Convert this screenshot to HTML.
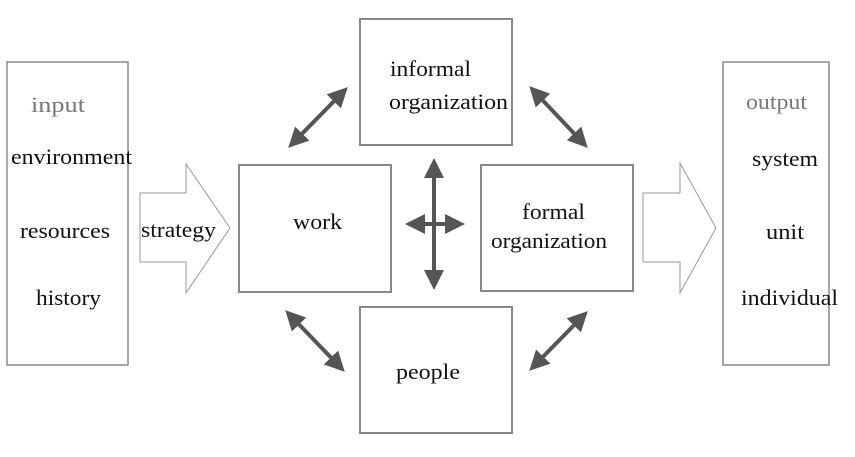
<!DOCTYPE html>
<html><head><style>
html,body{margin:0;padding:0;background:#fff;}
svg text{font-family:"Liberation Serif",serif;font-size:22px;fill:#111;}
</style></head><body>
<svg width="855" height="452" viewBox="0 0 855 452" xmlns="http://www.w3.org/2000/svg">
<defs>
<marker id="a" viewBox="0 0 10 10" refX="8" refY="5" markerWidth="5" markerHeight="5" orient="auto-start-reverse">
<path d="M0,0 L10,5 L0,10 z" fill="#555"/></marker>
</defs>
<g fill="#fff" stroke="#888" stroke-width="1.5">
<rect x="7" y="62" width="121" height="303"/>
<rect x="723" y="62" width="106" height="303"/>
</g>
<g fill="#fff" stroke="#888" stroke-width="2">
<rect x="239" y="165" width="152" height="127"/>
<rect x="360" y="19" width="152" height="126"/>
<rect x="481" y="165" width="152" height="126"/>
<rect x="360" y="307" width="152" height="126"/>
</g>
<g fill="#fff" stroke="#999" stroke-width="1">
<path d="M140,193 H186 V164 L230,228 L186,293 V262 H140 Z"/>
<path d="M643,193 H680 V163 L716,228 L680,293 V262 H643 Z"/>
</g>
<g stroke="#555" stroke-width="4" marker-start="url(#a)" marker-end="url(#a)">
<line x1="291" y1="145" x2="345" y2="90"/>
<line x1="532" y1="89" x2="585" y2="145"/>
<line x1="288" y1="313" x2="342" y2="369"/>
<line x1="532" y1="368" x2="585" y2="314"/>
<line x1="434" y1="162" x2="434" y2="286"/>
<line x1="409" y1="224" x2="461" y2="224"/>
</g>
<g lengthAdjust="spacingAndGlyphs">
<text x="31" y="112" textLength="54" lengthAdjust="spacingAndGlyphs" style="fill:#777">input</text>
<text x="11" y="164" textLength="121" lengthAdjust="spacingAndGlyphs">environment</text>
<text x="20" y="238" textLength="90" lengthAdjust="spacingAndGlyphs">resources</text>
<text x="36" y="305" textLength="65" lengthAdjust="spacingAndGlyphs">history</text>
<text x="141" y="237" textLength="75" lengthAdjust="spacingAndGlyphs">strategy</text>
<text x="293" y="229" textLength="49" lengthAdjust="spacingAndGlyphs">work</text>
<text x="390" y="76" textLength="81" lengthAdjust="spacingAndGlyphs">informal</text>
<text x="389" y="109" textLength="119" lengthAdjust="spacingAndGlyphs">organization</text>
<text x="522" y="219" textLength="63" lengthAdjust="spacingAndGlyphs">formal</text>
<text x="491" y="248" textLength="116" lengthAdjust="spacingAndGlyphs">organization</text>
<text x="396" y="379" textLength="64" lengthAdjust="spacingAndGlyphs">people</text>
<text x="746" y="109" textLength="61" lengthAdjust="spacingAndGlyphs" style="fill:#777">output</text>
<text x="752" y="166" textLength="66" lengthAdjust="spacingAndGlyphs">system</text>
<text x="766" y="239" textLength="38" lengthAdjust="spacingAndGlyphs">unit</text>
<text x="741" y="305" textLength="97" lengthAdjust="spacingAndGlyphs">individual</text>
</g>
</svg>
</body></html>
